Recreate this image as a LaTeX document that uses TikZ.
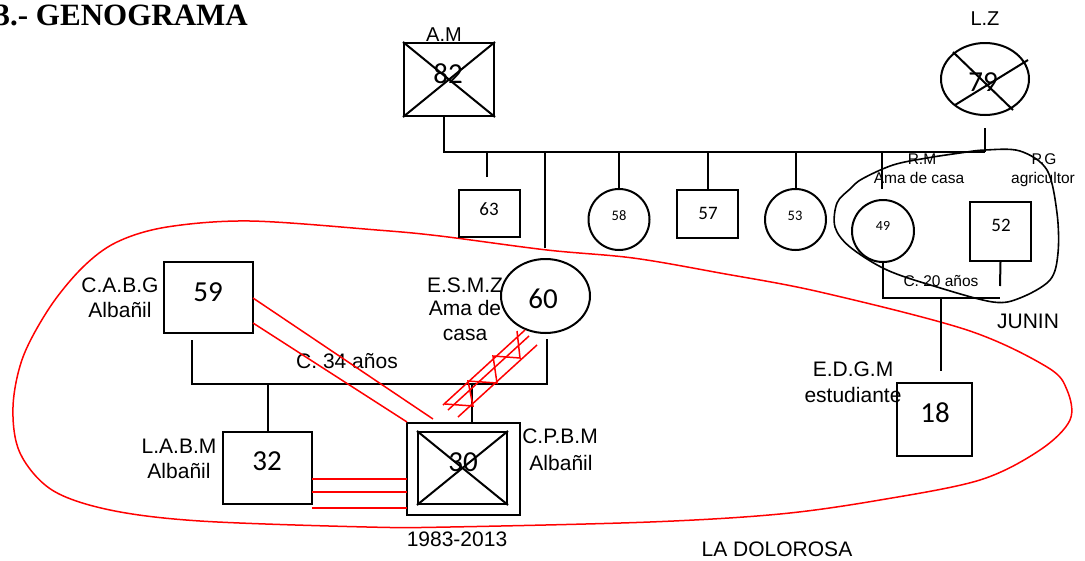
\documentclass[tikz,border=0pt]{standalone}
\usepackage{fontspec}
\setmainfont{Liberation Sans}
\newfontfamily\numfont{Carlito}
\newfontfamily\titlefont{Liberation Serif}
\usetikzlibrary{shapes.geometric}
\newcommand\myfs[1]{\fontsize{#1}{#1}\selectfont}
\begin{document}
\begin{tikzpicture}[x=1pt,y=-1pt,
  ln/.style={line width=2pt,black},
  sqbox/.style={draw,line width=2pt,rectangle,inner sep=0pt},
  circ/.style={draw,line width=2pt,circle,inner sep=0pt},
  ell/.style={draw,line width=2pt,ellipse,inner sep=0pt},
  rl/.style={red,line width=1.5pt},
  lbl/.style={inner sep=0pt,anchor=base,font=\myfs{21}},
  slbl/.style={inner sep=0pt,anchor=base,font=\myfs{15.5}},
  num/.style={inner sep=0pt,anchor=base,font=\numfont\myfs{29}},
  snum/.style={inner sep=0pt,anchor=base,font=\numfont\myfs{19}},
  tnum/.style={inner sep=0pt,anchor=base,font=\numfont\myfs{14.5}}]
\useasboundingbox (0,0) rectangle (1085,560);

% title
\node[anchor=base east,inner sep=0pt,font=\titlefont\bfseries\myfs{31}] (title) at (248,25) {3.- GENOGRAMA};

% red enclosure (LA DOLOROSA)
\draw[rl] plot[smooth cycle,tension=0.55] coordinates {
 (250,221) (377,230) (440,236) (547,250) (633,258) (720,273) (820,292)
 (967,330) (1047,367) (1067,390) (1070,420) (1040,450) (980,480) (880,500)
 (780,514) (650,522) (450,527) (367,527) (200,521) (110,510) (52,490)
 (20,453) (13,407) (23,357) (50,307) (83,267) (117,242) (167,227)};

% black enclosure (JUNIN)
\draw[line width=1.6pt] plot[smooth cycle,tension=0.55] coordinates {
 (862,179) (893,165) (927,158) (960,153) (985,150) (1020,151) (1047,170)
 (1057,213) (1058,253) (1050,280) (1020,298) (993,302) (937,287) (887,270)
 (850,247) (835,227) (837,203) (850,189)};

% grandparents
\node[sqbox,minimum width=90,minimum height=73] (am) at (449,79.5) {};
\draw[ln] (am.north west) -- (am.south east) (am.north east) -- (am.south west);
\node[num] (am82) at (448,83) {82};
\node[lbl,font=\myfs{20}] (amlbl) at (444,41) {A.M};

\node[ell,minimum width=88,minimum height=72] (lz) at (985,79) {};
\draw[ln] (953,52) -- (1013,110) (955,105) -- (1028,60);
\node[num] (lz79) at (983,91) {79};
\node[lbl,font=\myfs{20}] (lzlbl) at (985,25) {L.Z};

% sibship line
\coordinate (sibL) at (443,152);
\coordinate (sibR) at (985,152);
\coordinate (amdrop) at (444,116);
\coordinate (lzdrop) at (985,128);
\draw[ln] (sibL) -- (sibR);
\draw[ln] (amdrop) -- (amdrop |- sibL);
\draw[ln] (lzdrop) -- (sibR);

% children
\node[sqbox,minimum width=61,minimum height=47] (s63) at (489.5,213.5) {};
\node[snum] at (489,215) {63};
\coordinate (d63) at (487,177);
\draw[ln] (d63) -- (d63 |- sibL);

\coordinate (d60) at (545,248);
\draw[ln] (d60) -- (d60 |- sibL);

\node[circ,minimum size=61] (s58) at (619,219.5) {};
\node[tnum] at (619,220) {58};
\draw[ln] (s58.north) -- (s58.north |- sibL);

\node[sqbox,minimum width=61,minimum height=48] (s57) at (707.5,214) {};
\node[snum] at (708,219) {57};
\draw[ln] (s57.north) -- (s57.north |- sibL);

\node[circ,minimum size=61] (s53) at (795.5,219.5) {};
\node[tnum] at (795,220) {53};
\draw[ln] (s53.north) -- (s53.north |- sibL);

\coordinate (d49) at (882,189);
\draw[ln] (d49) -- (d49 |- sibL);

% JUNIN couple
\node[circ,minimum size=62] (rm) at (883,231) {};
\node[tnum,font=\numfont\myfs{14}] at (883,230) {49};
\node[sqbox,minimum width=61,minimum height=59] (pg) at (1000.5,231.5) {};
\node[snum] at (1001,231) {52};
\coordinate (junL) at (883,298);
\coordinate (junR) at (1000,298);
\coordinate (pgstub) at (1000,286);
\draw[ln] (rm.south) -- (junL) -- (junR);
\draw[ln] (pg.south) -- (pgstub);
\node[slbl] at (922,164) {R.M};
\node[slbl] at (919,183) {Ama de casa};
\node[slbl] at (1044,164) {P.G};
\node[slbl] at (1043,183) {agricultor};
\node[slbl] at (941,286) {C. 20 a\~nos};
\node[lbl] at (1028,328) {JUNIN};

\node[sqbox,minimum width=75,minimum height=73] (edgm) at (934.5,419.5) {};
\node[num] at (935,422) {18};
\coordinate (edrop) at (941,298);
\coordinate (eend) at (941,371);
\draw[ln] (edrop) -- (eend);
\node[lbl] at (853,376) {E.D.G.M};
\node[lbl] at (853,402) {estudiante};

% LA DOLOROSA couple
\node[sqbox,minimum width=89,minimum height=71] (cabg) at (208.5,297.5) {};
\node[num] at (208,301) {59};
\node[lbl] at (120,292) {C.A.B.G};
\node[lbl] at (120,317) {Alba\~nil};

\node[ell,minimum width=89,minimum height=74] (esmz) at (545.5,296) {};
\node[num] at (543,308) {60};
\node[lbl] at (465,292) {E.S.M.Z};
\node[lbl] at (465,315) {Ama de};
\node[lbl] at (465,340) {casa};

\coordinate (mL) at (192,384);
\coordinate (mR) at (547,384);
\coordinate (cabgstub) at (192,340);
\coordinate (esmzstub) at (547,339);
\draw[ln] (cabgstub) -- (mL) -- (mR) -- (esmzstub);
\node[lbl] at (347,368) {C. 34 a\~nos};

\node[sqbox,minimum width=89,minimum height=72] (labm) at (267.5,468) {};
\node[num] at (267,470) {32};
\node[lbl] at (179,453) {L.A.B.M};
\node[lbl] at (179,478) {Alba\~nil};
\draw[ln] (labm.north) -- (labm.north |- mL);

\node[sqbox,minimum width=113,minimum height=92] (cpbm) at (463.5,469) {};
\node[sqbox,minimum width=89,minimum height=72] (cpbmin) at (462.5,468) {};
\draw[ln] (cpbmin.north west) -- (cpbmin.south east) (cpbmin.north east) -- (cpbmin.south west);
\node[num] at (463,471) {30};
\coordinate (cdrop) at (472,423);
\draw[ln] (cdrop) -- (cdrop |- mL);
\node[lbl] at (560,443) {C.P.B.M};
\node[lbl] at (561,470) {Alba\~nil};
\node[lbl] at (457,546) {1983-2013};
\node[lbl] at (777,556) {LA DOLOROSA};

% red relationship lines
\draw[rl] (253,298) -- (433,419);
\draw[rl] (253,323) -- (407,422);
\draw[rl] (312,479) -- (407,479);
\draw[rl] (312,492) -- (407,492);
\draw[rl] (312,508) -- (407,508);
\draw[rl] (525,330) -- (443,405);
\draw[rl] (529,336) -- (448,410);
\draw[rl] (537,345) -- (458,417);
\draw[rl] (517,331) -- (520,358) -- (493,356) -- (497,383) -- (468,381) -- (473,406) -- (445,404);
\end{tikzpicture}
\end{document}
